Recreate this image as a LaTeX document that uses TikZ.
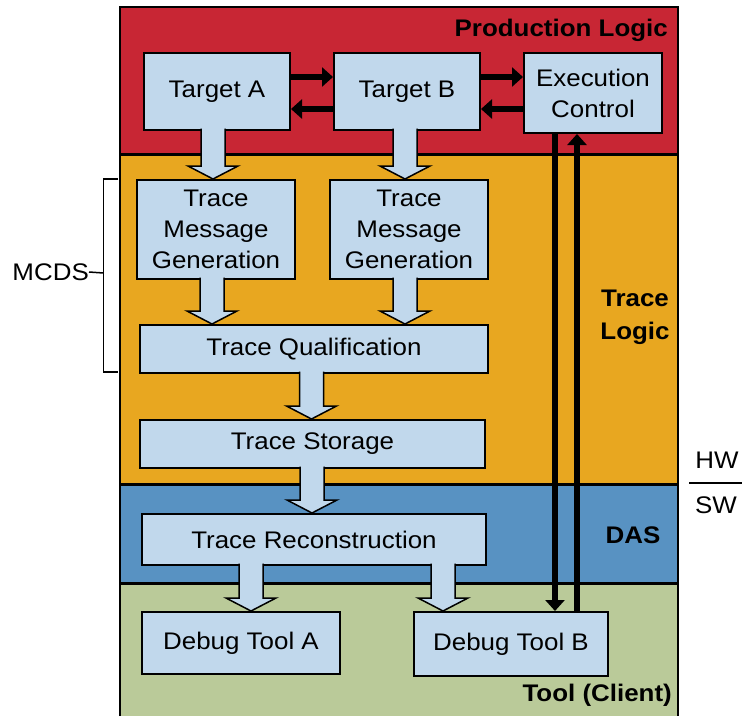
\documentclass[tikz,border=0pt]{standalone}
\usepackage{fontspec}
\setmainfont[FakeStretch=1.08]{Liberation Sans}
\usetikzlibrary{arrows.meta,calc}
\definecolor{redband}{RGB}{200,38,52}
\definecolor{orangeband}{RGB}{232,167,32}
\definecolor{blueband}{RGB}{88,146,194}
\definecolor{greenband}{RGB}{186,202,153}
\definecolor{boxc}{RGB}{193,216,236}
\tikzset{
  box/.style={draw=black, fill=boxc, line width=2pt, inner sep=0pt, anchor=north west,
    align=center, font=\fontsize{24}{31}\selectfont},
  lbl/.style={inner sep=0pt, font=\fontsize{24}{33}\selectfont\bfseries, align=center},
  plain/.style={inner sep=0pt, font=\fontsize{24}{31}\selectfont},
  barrowstyle/.style={fill=boxc, draw=black, line width=1.5pt, line join=miter},
  ctrl/.style={line width=6pt, -{Triangle[length=11pt,width=19pt]}},
  sep/.style={line width=3pt},
}
\newcommand\barrow[3]{%
  \path[barrowstyle] let \p1=(#2.south), \p2=(#3.north) in
   ({#1pt-12pt},{\y1+2.5pt}) -- ({#1pt-12pt},{\y2+13pt}) -- ({#1pt-25pt},{\y2+13pt})
   -- ({#1pt},\y2) -- ({#1pt+25pt},{\y2+13pt}) -- ({#1pt+12pt},{\y2+13pt})
   -- ({#1pt+12pt},{\y1+2.5pt});}
\begin{document}
\begin{tikzpicture}[x=1pt,y=-1pt]
\useasboundingbox (0,0) rectangle (742,716);
% bands
\fill[redband] (120,7) rectangle (678,154);
\fill[orangeband] (120,154) rectangle (678,484);
\fill[blueband] (120,484) rectangle (678,583);
\fill[greenband] (120,583) rectangle (678,716);
\draw[sep] (120,154) -- (678,154);
\draw[sep] (120,484) -- (678,484);
\draw[sep] (120,583) -- (678,583);
\draw[line width=2pt] (120,716) -- (120,7) -- (678,7) -- (678,716);
% band labels
\node[lbl, anchor=base east] (pl) at (668,36) {Production Logic};
\node[lbl] (tl) at (635,317) {Trace\\Logic};
\node[lbl] (das) at (633,535) {DAS};
\node[lbl, anchor=base east] (tc) at (672,701) {Tool (Client)};
% boxes
\node[box, minimum width=146, minimum height=77] (ta) at (143,52) {Target A};
\node[box, minimum width=146, minimum height=77] (tb) at (333,52) {Target B};
\node[box, minimum width=138, minimum height=80] (ec) at (523,52) {Execution\\Control};
\node[box, minimum width=158, minimum height=99] (tmga) at (136,179) {Trace\\Message\\Generation};
\node[box, minimum width=158, minimum height=99] (tmgb) at (329,179) {Trace\\Message\\Generation};
\node[box, minimum width=348, minimum height=48] (tq) at (139,324) {Trace Qualification};
\node[box, minimum width=345, minimum height=48] (ts) at (139,419) {Trace Storage};
\node[box, minimum width=344, minimum height=51] (tr) at (141,513) {Trace Reconstruction};
\node[box, minimum width=198, minimum height=62] (dta) at (141,611) {Debug Tool A};
\node[box, minimum width=194, minimum height=64] (dtb) at (413,611) {Debug Tool B};
% block arrows
\barrow{213}{ta}{tmga}
\barrow{405}{tb}{tmgb}
\barrow{212}{tmga}{tq}
\barrow{405}{tmgb}{tq}
\barrow{311.5}{tq}{ts}
\barrow{312}{ts}{tr}
\barrow{251}{tr}{dta}
\barrow{443}{tr}{dtb}
% control arrows
\draw[ctrl] ([yshift=14.5pt]ta.east) -- ([yshift=14.5pt]ta.east -| tb.west);
\draw[ctrl] ([yshift=-17.5pt]tb.west) -- ([yshift=-17.5pt]tb.west -| ta.east);
\draw[ctrl] ([yshift=14.5pt]tb.east) -- ([yshift=14.5pt]tb.east -| ec.west);
\draw[ctrl] ([yshift=-17.5pt]ec.west |- tb.east) -- ([yshift=-17.5pt]tb.east);
\draw[ctrl] ([xshift=32pt]ec.south west) -- ([xshift=32pt]ec.south west |- dtb.north);
\draw[ctrl] ([xshift=54pt]ec.south west |- dtb.north) -- ([xshift=54pt]ec.south west);
% MCDS bracket
\draw[line width=1.5pt] (118,179) -- (103.5,179) -- (103.5,372) -- (118,372);
\coordinate (mtick) at (103.5,273);
\node[plain, anchor=east] (mcds) at (89,272) {MCDS};
\draw[line width=1.5pt] (mcds.east) -- (mtick);
% HW / SW
\node[plain] (hw) at (717,460) {HW};
\node[plain] (sw) at (716,505) {SW};
\coordinate (hwl) at (689,483);
\coordinate (hwr) at (742,483);
\draw[line width=1.5pt] (hwl) -- (hwr);
\end{tikzpicture}
\end{document}
